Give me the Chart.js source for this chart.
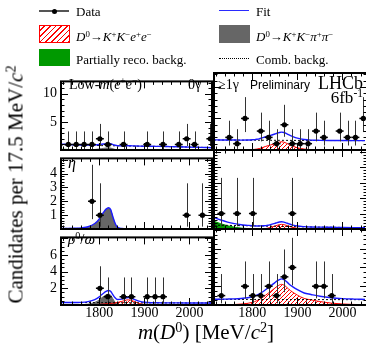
<!DOCTYPE html>
<html>
<head>
<meta charset="utf-8">
<script src="https://cdn.jsdelivr.net/npm/chart.js@4.4.1/dist/chart.umd.min.js"></script>
<style>
html, body { margin: 0; padding: 0; background: #fff; overflow: hidden; width: 366px; height: 346px; }
#wrap { position: relative; width: 366px; height: 346px; overflow: hidden; font-family: 'Liberation Serif', 'Times New Roman', serif; color: #000; }
canvas { position: absolute; }
.t { position: absolute; white-space: nowrap; line-height: 1; z-index: 2; }
.t sup { font-size: 0.68em; vertical-align: 0.5em; line-height: 0; }
.sym { position: absolute; z-index: 2; box-sizing: border-box; }
.sans { font-family: 'Liberation Sans', Arial, sans-serif; }
</style>
</head>
<body>
<div id="wrap">
  <!-- legend -->
  <div class="sym" style="left:39px;top:10px;width:30px;height:0;border-top:2px solid #555"></div>
  <div class="sym" style="left:51.5px;top:8.5px;width:5px;height:5px;border-radius:50%;background:#000"></div>
  <div class="t" style="left:76px;top:5px;font-size:13px">Data</div>
  <div class="sym" style="left:219px;top:10px;width:30px;height:0;border-top:1.5px solid #2a2aff"></div>
  <div class="t" style="left:256px;top:5px;font-size:13px">Fit</div>

  <div class="sym" style="left:39px;top:25px;width:31px;height:18px;border:1px solid #f00;background:repeating-linear-gradient(-45deg,#f00 0 1px,#fff 1px 4px)"></div>
  <div class="t" style="left:76px;top:30px;font-size:13px"><i>D</i><sup>0</sup>→<i>K</i><sup>+</sup><i>K</i><sup>−</sup><i>e</i><sup>+</sup><i>e</i><sup>−</sup></div>
  <div class="sym" style="left:219px;top:25px;width:31px;height:18px;background:#666"></div>
  <div class="t" style="left:256px;top:30px;font-size:13px"><i>D</i><sup>0</sup>→<i>K</i><sup>+</sup><i>K</i><sup>−</sup><i>π</i><sup>+</sup><i>π</i><sup>−</sup></div>

  <div class="sym" style="left:39px;top:49px;width:31px;height:17px;background:#009900"></div>
  <div class="t" style="left:76px;top:52.5px;font-size:13px">Partially reco. backg.</div>
  <div class="sym" style="left:219px;top:57.5px;width:30px;height:0;border-top:1px dotted #000"></div>
  <div class="t" style="left:256px;top:52.5px;font-size:13px">Comb. backg.</div>

  <!-- panel labels -->
  <div class="t" style="left:69px;top:78px;font-size:14px">Low-<i>m</i>(<i>e</i><sup>+</sup><i>e</i><sup>−</sup>)</div>
  <div class="t" style="left:188px;top:78px;font-size:14px">0γ</div>
  <div class="t" style="left:218px;top:78px;font-size:14px">≥1γ</div>
  <div class="t sans" style="left:250px;top:79px;font-size:12px">Preliminary</div>
  <div class="t" style="right:3px;top:74px;font-size:18px">LHCb</div>
  <div class="t" style="right:3px;top:89px;font-size:17px">6fb<sup>-1</sup></div>
  <div class="t" style="left:68px;top:155px;font-size:16px"><i>η</i></div>
  <div class="t" style="left:68px;top:232px;font-size:15px"><i>ρ</i><sup>0</sup>/<i>ω</i></div>

  <!-- axis titles -->
  <div class="t" style="left:-134px;top:174px;width:300px;text-align:center;font-size:21px;transform:rotate(-90deg)">Candidates per 17.5 MeV/<i>c</i><sup>2</sup></div>
  <div class="t" style="left:56px;top:322px;width:300px;text-align:center;font-size:21px"><i>m</i>(<i>D</i><sup>0</sup>) [MeV/<i>c</i><sup>2</sup>]</div>
</div>
<script>
// bins of 17.5 MeV/c2
const binCenters = [1731.25, 1748.75, 1766.25, 1783.75, 1801.25, 1818.75, 1836.25, 1853.75, 1871.25, 1888.75,
                    1906.25, 1923.75, 1941.25, 1958.75, 1976.25, 1993.75, 2011.25, 2028.75, 2046.25];
const binHalfWidth = 8.75;
// Poisson 68% intervals by count
const poissonLo = [0, 0.83, 1.29, 1.63, 1.91, 2.16];
const poissonHi = [1.84, 2.30, 2.64, 2.92, 3.16, 3.38];

const xTicks = [1800, 1900, 2000];
const yTicksLowMass = [5, 10];
const yTicksEta = [1, 2, 3, 4];
const yTicksRho = [2, 4, 6];

// mass points where the fit curves are read
const massGrid = [1715, 1730, 1745, 1760, 1775, 1790, 1800, 1805, 1810, 1815, 1820, 1825, 1830, 1835, 1840,
                  1850, 1855, 1860, 1865, 1870, 1875, 1880, 1890, 1900, 1915, 1930, 1950, 1975, 2000, 2025, 2050];

// Low-m(ee), 0 gamma
const countsLowMass0g = [1, 1, 1, 1, 2, 1, 0, 1, 0, 0, 1, 0, 1, 0, 1, 2, 1, 0, 2];
const fitLowMass0g = [1.04, 0.98, 0.93, 0.89, 0.86, 0.9, 0.97, 1.03, 1.075, 1.12, 1.145, 1.11, 0.965, 0.85, 0.77,
                      0.74, 0.745, 0.76, 0.765, 0.75, 0.73, 0.715, 0.69, 0.675, 0.66, 0.64, 0.61, 0.57, 0.52, 0.47, 0.42];
const combLowMass0g = [0.9, 0.88, 0.86, 0.84, 0.82, 0.8, 0.79, 0.78, 0.775, 0.77, 0.765, 0.76, 0.755, 0.75, 0.74,
                       0.73, 0.725, 0.72, 0.715, 0.71, 0.7, 0.695, 0.685, 0.675, 0.66, 0.64, 0.61, 0.57, 0.52, 0.47, 0.42];
const sigLowMass0g = [0, 0, 0, 0, 0, 0, 0, 0, 0, 0, 0, 0, 0, 0, 0,
                      0.01, 0.02, 0.04, 0.05, 0.04, 0.03, 0.02, 0.005, 0, 0, 0, 0, 0, 0, 0, 0];
const kkpipiLowMass0g = [0, 0, 0, 0.01, 0.02, 0.09, 0.18, 0.25, 0.3, 0.35, 0.38, 0.35, 0.21, 0.1, 0.03,
                         0, 0, 0, 0, 0, 0, 0, 0, 0, 0, 0, 0, 0, 0, 0, 0];
const partRecoLowMass0g = [0.14, 0.1, 0.07, 0.04, 0.02, 0.01, 0, 0, 0, 0, 0, 0, 0, 0, 0,
                           0, 0, 0, 0, 0, 0, 0, 0, 0, 0, 0, 0, 0, 0, 0, 0];

// Low-m(ee), >=1 gamma
const countsLowMass1g = [0, 2, 1, 5, 0, 3, 2, 1, 4, 1, 1, 1, 3, 2, 0, 3, 2, 2, 5];
const fitLowMass1g = [1.6, 1.59, 1.585, 1.575, 1.57, 1.585, 1.62, 1.65, 1.7, 1.765, 1.865, 1.99, 2.12, 2.22, 2.315,
                      2.535, 2.65, 2.78, 2.83, 2.78, 2.625, 2.445, 2.12, 1.87, 1.665, 1.57, 1.53, 1.51, 1.5, 1.49, 1.49];
const combLowMass1g = [1.58, 1.575, 1.57, 1.565, 1.56, 1.555, 1.55, 1.55, 1.55, 1.545, 1.545, 1.54, 1.54, 1.54, 1.535,
                       1.535, 1.53, 1.53, 1.53, 1.53, 1.525, 1.525, 1.52, 1.52, 1.515, 1.51, 1.51, 1.5, 1.5, 1.49, 1.49];
const sigLowMass1g = [0, 0, 0, 0, 0.01, 0.03, 0.07, 0.1, 0.15, 0.22, 0.32, 0.45, 0.58, 0.68, 0.78,
                      1.0, 1.12, 1.25, 1.3, 1.25, 1.1, 0.92, 0.6, 0.35, 0.15, 0.06, 0.02, 0.01, 0, 0, 0];

// eta, 0 gamma
const countsEta0g = [0, 0, 0, 2, 1, 0, 0, 0, 0, 0, 0, 0, 0, 0, 0, 1, 0, 1, 0];
const fitEta0g = [0.04, 0.04, 0.05, 0.08, 0.16, 0.4, 0.735, 1.015, 1.235, 1.435, 1.535, 1.415, 0.885, 0.415, 0.135,
                  0.04, 0.03, 0.03, 0.03, 0.03, 0.03, 0.03, 0.03, 0.03, 0.03, 0.025, 0.025, 0.025, 0.025, 0.025, 0.025];
const combEta0g = [0.04, 0.04, 0.04, 0.04, 0.04, 0.04, 0.035, 0.035, 0.035, 0.035, 0.035, 0.035, 0.035, 0.035, 0.035,
                   0.03, 0.03, 0.03, 0.03, 0.03, 0.03, 0.03, 0.03, 0.03, 0.03, 0.025, 0.025, 0.025, 0.025, 0.025, 0.025];
const kkpipiEta0g = [0, 0, 0.01, 0.04, 0.12, 0.36, 0.7, 0.98, 1.2, 1.4, 1.5, 1.38, 0.85, 0.38, 0.1,
                     0.01, 0, 0, 0, 0, 0, 0, 0, 0, 0, 0, 0, 0, 0, 0, 0];

// eta, >=1 gamma
const countsEta1g = [1, 0, 1, 0, 1, 0, 0, 0, 0, 1, 0, 0, 0, 0, 0, 0, 0, 0, 0];
const fitEta1g = [0.75, 0.58, 0.445, 0.345, 0.275, 0.235, 0.21, 0.2, 0.195, 0.2, 0.2, 0.21, 0.215, 0.24, 0.28,
                  0.365, 0.41, 0.45, 0.465, 0.445, 0.4, 0.35, 0.255, 0.19, 0.15, 0.13, 0.12, 0.11, 0.1, 0.09, 0.08];
const combEta1g = [0.25, 0.24, 0.235, 0.225, 0.215, 0.21, 0.2, 0.2, 0.195, 0.195, 0.19, 0.19, 0.185, 0.18, 0.18,
                   0.175, 0.17, 0.17, 0.165, 0.165, 0.16, 0.16, 0.155, 0.15, 0.14, 0.13, 0.12, 0.11, 0.1, 0.09, 0.08];
const sigEta1g = [0, 0, 0, 0, 0, 0, 0, 0, 0, 0.005, 0.01, 0.02, 0.03, 0.06, 0.1,
                  0.19, 0.24, 0.28, 0.3, 0.28, 0.24, 0.19, 0.1, 0.04, 0.01, 0, 0, 0, 0, 0, 0];
const partRecoEta1g = [0.5, 0.34, 0.21, 0.12, 0.06, 0.025, 0.01, 0, 0, 0, 0, 0, 0, 0, 0,
                       0, 0, 0, 0, 0, 0, 0, 0, 0, 0, 0, 0, 0, 0, 0, 0];

// rho/omega, 0 gamma
const countsRho0g = [0, 0, 0, 0, 2, 1, 0, 1, 1, 0, 1, 1, 1, 0, 0, 0, 0, 0, 0];
const fitRho0g = [0.3, 0.3, 0.305, 0.32, 0.41, 0.645, 0.975, 1.23, 1.44, 1.62, 1.74, 1.655, 1.235, 0.865, 0.66,
                  0.71, 0.79, 0.87, 0.885, 0.845, 0.745, 0.625, 0.43, 0.33, 0.275, 0.265, 0.25, 0.25, 0.245, 0.24, 0.24];
const combRho0g = [0.3, 0.3, 0.295, 0.29, 0.29, 0.285, 0.285, 0.28, 0.28, 0.28, 0.28, 0.275, 0.275, 0.275, 0.27,
                   0.27, 0.27, 0.27, 0.265, 0.265, 0.265, 0.265, 0.26, 0.26, 0.255, 0.255, 0.25, 0.25, 0.245, 0.24, 0.24];
const sigRho0g = [0, 0, 0, 0, 0.02, 0.05, 0.08, 0.1, 0.12, 0.14, 0.16, 0.19, 0.22, 0.26, 0.31,
                  0.43, 0.52, 0.6, 0.62, 0.58, 0.48, 0.36, 0.17, 0.07, 0.02, 0.01, 0, 0, 0, 0, 0];
const kkpipiRho0g = [0, 0, 0.01, 0.03, 0.1, 0.31, 0.61, 0.85, 1.04, 1.2, 1.3, 1.19, 0.74, 0.33, 0.08,
                     0.01, 0, 0, 0, 0, 0, 0, 0, 0, 0, 0, 0, 0, 0, 0, 0];

// rho/omega, >=1 gamma
const countsRho1g = [1, 0, 0, 2, 1, 1, 2, 1, 3, 4, 0, 0, 2, 2, 1, 0, 0, 0, 0];
const fitRho1g = [0.61, 0.62, 0.63, 0.65, 0.695, 0.775, 0.875, 0.955, 1.05, 1.17, 1.31, 1.47, 1.65, 1.84, 2.01,
                  2.385, 2.565, 2.715, 2.785, 2.705, 2.535, 2.3, 1.93, 1.63, 1.28, 1.125, 0.935, 0.775, 0.68, 0.63, 0.6];
const combRho1g = [0.6, 0.6, 0.6, 0.6, 0.595, 0.595, 0.595, 0.595, 0.59, 0.59, 0.59, 0.59, 0.59, 0.59, 0.59,
                   0.585, 0.585, 0.585, 0.585, 0.585, 0.585, 0.58, 0.58, 0.58, 0.58, 0.575, 0.575, 0.575, 0.57, 0.57, 0.57];
const sigRho1g = [0.01, 0.02, 0.03, 0.05, 0.1, 0.18, 0.28, 0.36, 0.46, 0.58, 0.72, 0.88, 1.06, 1.25, 1.42,
                  1.8, 1.98, 2.13, 2.2, 2.12, 1.95, 1.72, 1.35, 1.05, 0.7, 0.55, 0.36, 0.2, 0.11, 0.06, 0.03];

// layout of the 3x2 grid (pixels); the right column runs a little past the picture edge
const colBox = [{ left: 61, right: 213, xMax: 2050 }, { left: 214, right: 368, xMax: 2054.4 }];
const rowBox = [
    { top: 73, bottom: 150, yMax: 12.2, yTicks: yTicksLowMass, majorStep: 5, minorStep: 1 },
    { top: 150, bottom: 229, yMax: 5.1, yTicks: yTicksEta, majorStep: 1, minorStep: 0.2 },
    { top: 229, bottom: 305, yMax: 8.1, yTicks: yTicksRho, majorStep: 2, minorStep: 0.5 },
];
const AXIS_W = 40, AXIS_H = 24, PAD_T = 4, PAD_R = 3;
const X_MIN = 1715;
const tickFont = { family: "'Liberation Serif', 'Times New Roman', serif", size: 14 };

const panels = [
    { col: 0, row: 0, counts: countsLowMass0g, fit: fitLowMass0g, comb: combLowMass0g, sig: sigLowMass0g, kkpipi: kkpipiLowMass0g, partReco: partRecoLowMass0g },
    { col: 1, row: 0, counts: countsLowMass1g, fit: fitLowMass1g, comb: combLowMass1g, sig: sigLowMass1g },
    { col: 0, row: 1, counts: countsEta0g, fit: fitEta0g, comb: combEta0g, kkpipi: kkpipiEta0g },
    { col: 1, row: 1, counts: countsEta1g, fit: fitEta1g, comb: combEta1g, sig: sigEta1g, partReco: partRecoEta1g },
    { col: 0, row: 2, counts: countsRho0g, fit: fitRho0g, comb: combRho0g, sig: sigRho0g, kkpipi: kkpipiRho0g },
    { col: 1, row: 2, counts: countsRho1g, fit: fitRho1g, comb: combRho1g, sig: sigRho1g },
];

// frame with inward ticks on all four sides
const panelFrame = {
    id: 'panelFrame',
    afterDraw(chart, args, opts) {
        const { ctx, chartArea: a, scales: { x, y } } = chart;
        ctx.save();
        ctx.strokeStyle = '#000';
        ctx.lineWidth = 1;
        ctx.beginPath();
        for (let v = 1720; v <= x.max; v += 20) {
            const px = Math.round(x.getPixelForValue(v)) + 0.5;
            const len = v % 100 === 0 ? 7 : 3.5;
            ctx.moveTo(px, a.bottom); ctx.lineTo(px, a.bottom - len);
            ctx.moveTo(px, a.top); ctx.lineTo(px, a.top + len);
        }
        const n = Math.floor(y.max / opts.minorStep + 1e-6);
        for (let i = 1; i <= n; i++) {
            const v = i * opts.minorStep;
            const py = Math.round(y.getPixelForValue(v)) + 0.5;
            const r = v / opts.majorStep;
            const len = Math.abs(r - Math.round(r)) < 1e-6 ? 7 : 3.5;
            ctx.moveTo(a.left, py); ctx.lineTo(a.left + len, py);
            ctx.moveTo(a.right, py); ctx.lineTo(a.right - len, py);
        }
        ctx.stroke();
        ctx.lineWidth = 2;
        ctx.strokeRect(a.left, a.top, a.right - a.left, a.bottom - a.top);
        ctx.restore();
    }
};

// asymmetric vertical errors and bin-width horizontal bars
const errorBars = {
    id: 'errorBars',
    beforeDatasetDraw(chart, args) {
        const ds = chart.data.datasets[args.index];
        if (!ds.errLo) return;
        const { ctx, chartArea: a, scales: { x, y } } = chart;
        ctx.save();
        ctx.beginPath();
        ctx.rect(a.left, a.top, a.right - a.left, a.bottom - a.top);
        ctx.clip();
        ds.data.forEach((p, i) => {
            const px = Math.round(x.getPixelForValue(p.x)) + 0.5;
            const py = y.getPixelForValue(p.y);
            ctx.strokeStyle = '#333';
            ctx.lineWidth = 1;
            ctx.beginPath();
            ctx.moveTo(px, y.getPixelForValue(p.y - ds.errLo[i]));
            ctx.lineTo(px, y.getPixelForValue(p.y + ds.errHi[i]));
            ctx.stroke();
            ctx.strokeStyle = '#000';
            ctx.lineWidth = 1.5;
            ctx.beginPath();
            ctx.moveTo(x.getPixelForValue(p.x - binHalfWidth), py);
            ctx.lineTo(x.getPixelForValue(p.x + binHalfWidth), py);
            ctx.stroke();
        });
        ctx.restore();
    }
};

function hatchPattern(ctx) {
    const c = document.createElement('canvas');
    c.width = 4; c.height = 4;
    const g = c.getContext('2d');
    g.strokeStyle = '#ff0000';
    g.lineWidth = 1;
    g.beginPath();
    g.moveTo(0, 4); g.lineTo(4, 0);
    g.moveTo(-1, 1); g.lineTo(1, -1);
    g.moveTo(3, 5); g.lineTo(5, 3);
    g.stroke();
    return ctx.createPattern(c, 'repeat');
}

function curve(values, extra) {
    return Object.assign({
        data: massGrid.map((m, i) => ({ x: m, y: values[i] })),
        pointRadius: 0,
        borderWidth: 1,
        cubicInterpolationMode: 'monotone',
        fill: false,
    }, extra);
}

function makePanel(p) {
    const col = colBox[p.col], row = rowBox[p.row];
    const canvas = document.createElement('canvas');
    canvas.width = AXIS_W + (col.right - col.left) + PAD_R;
    canvas.height = PAD_T + (row.bottom - row.top) + AXIS_H;
    canvas.style.left = (col.left - AXIS_W) + 'px';
    canvas.style.top = (row.top - PAD_T) + 'px';
    document.getElementById('wrap').appendChild(canvas);
    const ctx = canvas.getContext('2d');

    const datasets = [];
    if (p.partReco) datasets.push(curve(p.partReco, { fill: 'origin', backgroundColor: '#009900', borderColor: '#009900', order: 6 }));
    if (p.kkpipi) datasets.push(curve(p.kkpipi, { fill: 'origin', backgroundColor: '#666666', borderColor: '#666666', order: 5 }));
    if (p.sig) datasets.push(curve(p.sig, { fill: 'origin', backgroundColor: hatchPattern(ctx), borderColor: '#ff0000', order: 4 }));
    datasets.push(curve(p.comb, { borderColor: '#000', borderDash: [2, 2], order: 3 }));
    datasets.push(curve(p.fit, { borderColor: '#1a1aff', borderWidth: 1.4, order: 2 }));

    const pts = [], lo = [], hi = [];
    p.counts.forEach((n, i) => {
        if (n > 0) {
            pts.push({ x: binCenters[i], y: n });
            lo.push(poissonLo[n]);
            hi.push(poissonHi[n]);
        }
    });
    datasets.push({
        data: pts, errLo: lo, errHi: hi, showLine: false,
        pointRadius: 2.6, pointBorderWidth: 0, pointBackgroundColor: '#000', borderColor: '#000', order: 1,
    });

    const showX = p.row === 2, showY = p.col === 0;
    new Chart(ctx, {
        type: 'line',
        data: { datasets },
        options: {
            responsive: false,
            animation: false,
            devicePixelRatio: 1,
            events: [],
            layout: { padding: { top: PAD_T, right: PAD_R, left: 0, bottom: 0 } },
            plugins: {
                legend: { display: false },
                tooltip: { enabled: false },
                panelFrame: { majorStep: row.majorStep, minorStep: row.minorStep },
            },
            scales: {
                x: {
                    type: 'linear', min: X_MIN, max: col.xMax,
                    grid: { display: false, drawTicks: false },
                    border: { display: false },
                    afterBuildTicks: s => { s.ticks = xTicks.map(v => ({ value: v })); },
                    afterFit: s => { s.height = AXIS_H; },
                    ticks: { display: showX, padding: 0, color: '#000', font: tickFont, maxRotation: 0, minRotation: 0, autoSkip: false, callback: v => String(v) },
                },
                y: {
                    type: 'linear', min: 0, max: row.yMax,
                    grid: { display: false, drawTicks: false },
                    border: { display: false },
                    afterBuildTicks: s => { s.ticks = row.yTicks.map(v => ({ value: v })); },
                    afterFit: s => { s.width = AXIS_W; },
                    ticks: { display: showY, padding: 4, color: '#000', font: tickFont, autoSkip: false, callback: v => String(v) },
                },
            },
        },
        plugins: [panelFrame, errorBars],
    });
}

panels.forEach(makePanel);
</script>
</body>
</html>
